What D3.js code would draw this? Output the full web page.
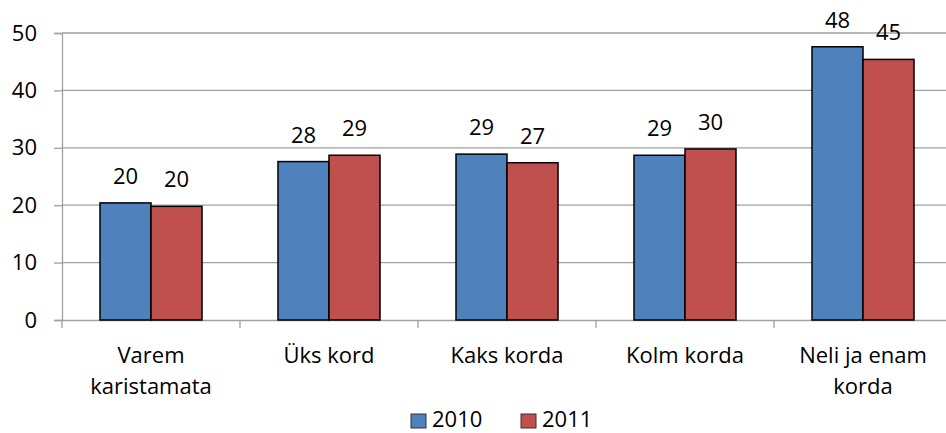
<!DOCTYPE html>
<html><head><meta charset="utf-8">
<script src="https://cdn.jsdelivr.net/npm/d3@7"></script>
<style>body{margin:0;background:#fff}svg{display:block}text{font-family:"Open Sans",Lato,sans-serif;fill:#000}</style>
</head><body><svg id="c" width="946" height="433"></svg>
<script>
const categories = [["Varem","karistamata"],["Üks kord"],["Kaks korda"],["Kolm korda"],["Neli ja enam","korda"]];
const seriesNames = ["2010","2011"];
const values2010 = [20.4, 27.6, 28.9, 28.7, 47.6];
const values2011 = [19.8, 28.7, 27.4, 29.8, 45.4];
const yTicks = [0,10,20,30,40,50];
const colors = ["#4F81BD","#C0504D"];

(function(){
const FS = "22px";
const svg = d3.select("#c");
const mLeft = 62, mRight = 952, mTop = 33, mBottom = 320;
const x = d3.scaleBand().domain(d3.range(categories.length)).range([mLeft, mRight]);
const y = d3.scaleLinear().domain([0,50]).range([mBottom, mTop]);
const inner = d3.scaleBand().domain([0,1]).range([0, 102]);

svg.append("g").selectAll("line").data(yTicks.filter(d=>d>0)).join("line")
  .attr("x1", mLeft).attr("x2", mRight).attr("y1", d=>y(d)).attr("y2", d=>y(d))
  .attr("stroke","#a0a0a0").attr("stroke-width",1.3);

const ya = svg.append("g").attr("transform",`translate(${mLeft},0)`)
  .call(d3.axisLeft(y).tickValues(yTicks).tickSize(8).tickPadding(17));
ya.select(".domain").attr("stroke","#a0a0a0").attr("stroke-width",1.3);
ya.selectAll(".tick line").attr("stroke","#a0a0a0").attr("stroke-width",1.3);
ya.selectAll(".tick text").attr("font-size",FS).attr("font-family","'Open Sans',sans-serif").attr("fill","#000");

const xa = svg.append("g").attr("transform",`translate(0,${mBottom})`)
  .call(d3.axisBottom(x).tickValues([]).tickSizeOuter(0));
xa.select(".domain").attr("stroke","#a0a0a0").attr("stroke-width",1.3);
svg.append("g").selectAll("line").data(d3.range(categories.length+1)).join("line")
  .attr("x1", d=>mLeft + d*x.step()).attr("x2", d=>mLeft + d*x.step())
  .attr("y1", mBottom).attr("y2", mBottom+8).attr("stroke","#a0a0a0").attr("stroke-width",1.3);

const all = [values2010, values2011];
all.forEach((vals, s) => {
  const cx0 = i => x(i) + x.bandwidth()/2 - 51 + inner(s);
  svg.append("g").selectAll("rect").data(vals).join("rect")
    .attr("x", (d,i)=>cx0(i)).attr("width", 51)
    .attr("y", d=>y(d)).attr("height", d=>mBottom - y(d))
    .attr("fill", colors[s]).attr("stroke","#000").attr("stroke-width",1.5);
  svg.append("g").selectAll("text").data(vals).join("text")
    .attr("x", (d,i)=>cx0(i)+25.5).attr("y", d=>y(d)-19)
    .attr("text-anchor","middle").attr("font-size",FS)
    .text(d=>Math.round(d));
});

svg.append("g").selectAll("text").data(categories).join("text")
  .attr("text-anchor","middle").attr("font-size",FS)
  .attr("transform",(d,i)=>`translate(${x(i)+x.bandwidth()/2},363)`)
  .each(function(d){
    d3.select(this).selectAll("tspan").data(d).join("tspan")
      .attr("x",0).attr("dy",(t,j)=>j?31:0).text(t=>t);
  });

const lg = [{x:411, tx:432},{x:521, tx:542}];
lg.forEach((l,s)=>{
  svg.append("rect").attr("x",l.x).attr("y",414).attr("width",15).attr("height",14)
    .attr("fill",colors[s]).attr("stroke","#333").attr("stroke-width",1);
  svg.append("text").attr("x",l.tx).attr("y",427).attr("font-size",FS).text(seriesNames[s]);
});
})();
</script></body></html>
